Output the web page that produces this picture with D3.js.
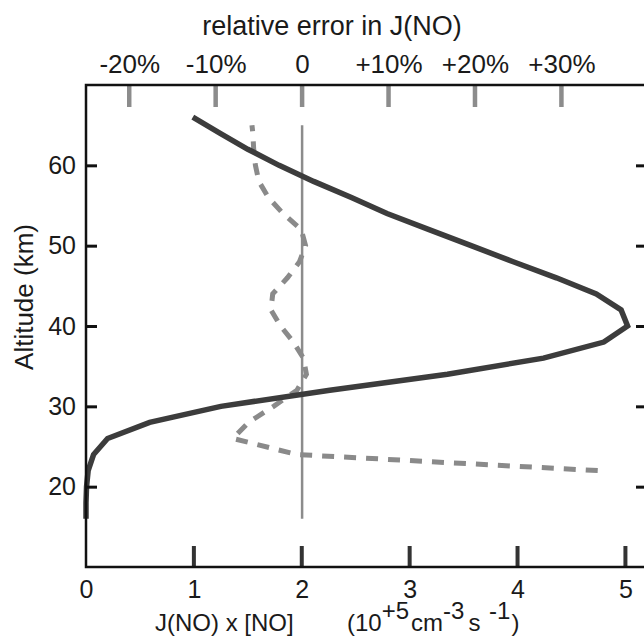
<!DOCTYPE html>
<html><head><meta charset="utf-8">
<script src="https://cdn.jsdelivr.net/npm/d3@7"></script>
<style>
html,body{margin:0;padding:0;background:#fff;}
svg text{font-family:"Liberation Sans",Arial,Helvetica,sans-serif;fill:#1a1a1a;}
</style></head>
<body><svg id="c" width="644" height="637"></svg>
<script>
// ---- data ----
const altSolid = [16,18,20,22,24,26,28,30,32,34,36,38,40,42,44,46,48,50,52,54,56,58,60,62,64,66];
const prodSolid = [0.0,0.0,0.005,0.02,0.07,0.2,0.59,1.25,2.26,3.35,4.24,4.80,5.02,4.96,4.73,4.36,3.96,3.57,3.18,2.79,2.46,2.11,1.79,1.50,1.24,0.99];
const altErr = [22,24,26,28,30,32,34,36,38,40,42,44,46,48,50,52,54,56,58,60,62,64,65];
const relErr = [34.2,-0.6,-8.0,-6.2,-3.3,-0.6,0.5,0.15,-1.0,-2.5,-3.6,-3.4,-1.7,-0.3,0.4,-0.1,-2.2,-3.9,-5.0,-5.4,-5.6,-5.7,-5.8];
const refLine = [16,65];          // altitude span of the zero-error reference line
const xTicks = [0,1,2,3,4,5];
const errTicks = [-20,-10,0,10,20,30,40];
const errLabels = ["-20%","-10%","0","+10%","+20%","+30%",""];
const yTicks = [20,30,40,50,60];

// ---- layout ----
const L=86, R=647, T=85, B=567;
const svg=d3.select("#c");
const x=d3.scaleLinear().domain([0,5.2]).range([L,R]);
const xe=d3.scaleLinear().domain([-25,39.9]).range([L,R]);
const y=d3.scaleLinear().domain([10,70]).range([B,T]);

// reference line at zero error
svg.append("line").attr("x1",xe(0)).attr("x2",xe(0)).attr("y1",y(refLine[0])).attr("y2",y(refLine[1]))
  .attr("stroke","#8c8c8c").attr("stroke-width",2.5);

// dashed relative-error curve
const errData=altErr.map((a,i)=>({a,v:relErr[i]}));
svg.append("path").datum(errData)
  .attr("d",d3.line().x(d=>xe(d.v)).y(d=>y(d.a)))
  .attr("fill","none").attr("stroke","#8a8a8a").attr("stroke-width",5)
  .attr("stroke-dasharray","12,10").attr("stroke-linejoin","miter");

// solid production curve
const solData=altSolid.map((a,i)=>({a,v:prodSolid[i]}));
svg.append("path").datum(solData)
  .attr("d",d3.line().x(d=>x(d.v)).y(d=>y(d.a)))
  .attr("fill","none").attr("stroke","#3c3c3c").attr("stroke-width",5.5)
  .attr("stroke-linejoin","miter");

// axes
const gBottom=svg.append("g").attr("transform",`translate(0,${B})`)
  .call(d3.axisBottom(x).tickValues(xTicks).tickSize(0).tickPadding(13).tickFormat(d3.format("d")));
gBottom.select(".domain").remove();
gBottom.selectAll("text").attr("font-size",25).attr("dy","0.71em");
svg.append("g").selectAll("line").data(xTicks.filter(d=>d>0)).join("line")
  .attr("x1",d=>x(d)).attr("x2",d=>x(d)).attr("y1",B).attr("y2",B-21)
  .attr("stroke","#333").attr("stroke-width",4);

const gTop=svg.append("g").attr("transform",`translate(0,${T})`)
  .call(d3.axisTop(xe).tickValues(errTicks).tickSize(0).tickPadding(12).tickFormat((d,i)=>errLabels[i]));
gTop.select(".domain").remove();
gTop.selectAll("text").attr("font-size",26);
svg.append("g").selectAll("line").data(errTicks).join("line")
  .attr("x1",d=>xe(d)).attr("x2",d=>xe(d)).attr("y1",T).attr("y2",T+22)
  .attr("stroke","#8c8c8c").attr("stroke-width",4.5);

const gLeft=svg.append("g").attr("transform",`translate(${L},0)`)
  .call(d3.axisLeft(y).tickValues(yTicks).tickSize(-11).tickPadding(11).tickFormat(d3.format("d")));
gLeft.select(".domain").remove();
gLeft.selectAll("line").attr("stroke","#111").attr("stroke-width",3);
gLeft.selectAll("text").attr("font-size",25).attr("x",-10);

const gRight=svg.append("g").attr("transform",`translate(${R},0)`)
  .call(d3.axisRight(y).tickValues(yTicks).tickSize(-11).tickFormat(""));
gRight.select(".domain").remove();
gRight.selectAll("line").attr("stroke","#111").attr("stroke-width",3);

// frame
svg.append("rect").attr("x",L).attr("y",T).attr("width",R-L).attr("height",B-T)
  .attr("fill","none").attr("stroke","#111").attr("stroke-width",2.5);

// titles
svg.append("text").attr("x",332).attr("y",35).attr("text-anchor","middle").attr("font-size",27)
  .text("relative error in J(NO)");
svg.append("text").attr("transform","translate(33,297) rotate(-90)").attr("text-anchor","middle")
  .attr("font-size",26).text("Altitude (km)");
const bt=svg.append("text").attr("y",631).attr("font-size",24);
bt.append("tspan").attr("x",155).text("J(NO) x [NO]");
bt.append("tspan").attr("x",347).text("(10");
bt.append("tspan").attr("dy",-12).attr("font-size",24).text("+5");
bt.append("tspan").attr("dy",12).attr("dx",2).text("cm");
bt.append("tspan").attr("dy",-12).attr("font-size",24).text("-3");
bt.append("tspan").attr("dy",12).attr("dx",4).text("s");
bt.append("tspan").attr("dy",-12).attr("dx",2).attr("font-size",24).text(" -1");
bt.append("tspan").attr("dy",12).attr("dx",1).text(")");
</script></body></html>
